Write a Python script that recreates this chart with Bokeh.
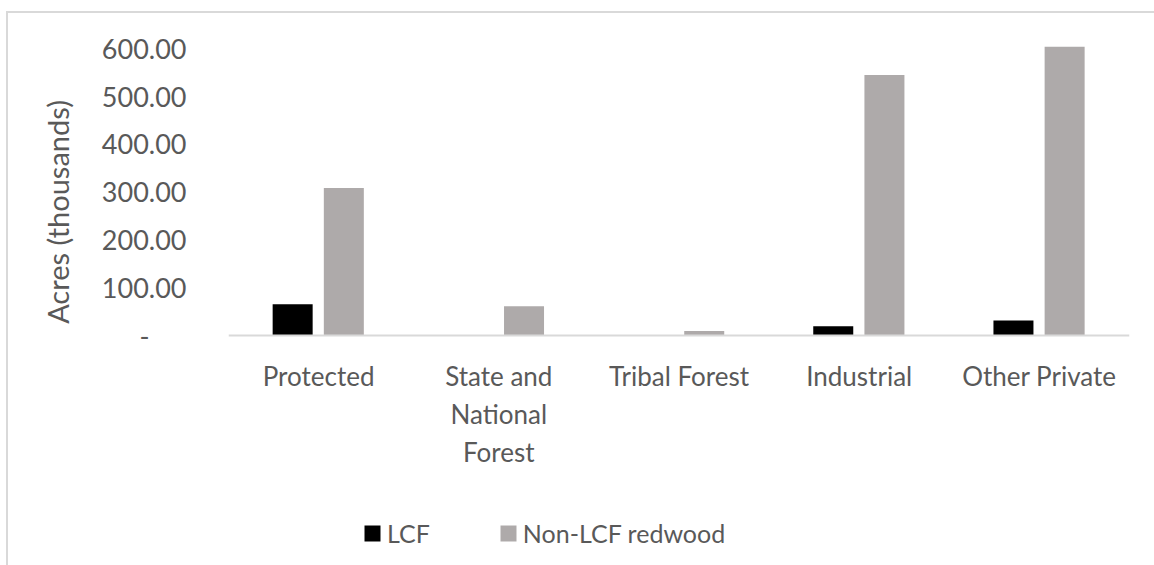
from bokeh.plotting import figure
from bokeh.models import (FactorRange, Range1d, FixedTicker, NumeralTickFormatter, Legend,
                          LegendItem, CategoricalAxis, ColumnDataSource)
from bokeh.transform import dodge
from bokeh.embed import file_html
from bokeh.resources import INLINE

categories = ["Protected", "State and National Forest", "Tribal Forest", "Industrial", "Other Private"]
label_line1 = ["Protected", "State and", "Tribal Forest", "Industrial", "Other Private"]
label_line2 = [" ", "National", "  ", "   ", "    "]
label_line3 = [" ", "Forest", "  ", "   ", "    "]
lcf = [65, 0, 0, 19, 31]
non_lcf = [308, 61, 9, 544, 603]
y_ticks = [0, 100, 200, 300, 400, 500, 600]
series_names = ["LCF", "Non-LCF redwood"]

FONT = "Lato"
TXT = "#595959"

source = ColumnDataSource(dict(cat=categories, lcf=lcf, non_lcf=non_lcf))

p = figure(
    x_range=FactorRange(*categories, range_padding=0),
    y_range=Range1d(-481, 610),
    frame_width=901, frame_height=522,
    output_backend="svg", toolbar_location=None,
    min_border_left=220, min_border_right=25, min_border_top=30, min_border_bottom=0,
    styles={"margin-left": "6px", "margin-top": "11px",
            "border-left": "2px solid #D9D9D9", "border-top": "2px solid #D9D9D9"},
)
p.outline_line_color = None
p.xgrid.grid_line_color = None
p.ygrid.grid_line_color = None
p.xaxis.visible = False

r1 = p.vbar(x=dodge("cat", -0.144, range=p.x_range), top="lcf", width=0.222, source=source,
            fill_color="#000000", line_color=None)
r2 = p.vbar(x=dodge("cat", 0.14, range=p.x_range), top="non_lcf", width=0.222, source=source,
            fill_color="#AEAAAA", line_color=None)

# y axis
p.yaxis.ticker = FixedTicker(ticks=y_ticks)
p.yaxis.formatter = NumeralTickFormatter(format="0.00")
p.yaxis.major_label_overrides = {0: "-\u2007\u2007\u2008"}
p.yaxis.axis_line_color = None
p.yaxis.major_tick_line_color = None
p.yaxis.minor_tick_line_color = None
p.yaxis.major_label_text_font = FONT
p.yaxis.major_label_text_font_size = "27px"
p.yaxis.major_label_text_color = TXT
p.yaxis.major_label_standoff = 36
p.yaxis.axis_label = "\u2007" * 11 + "Acres (thousands)"
p.yaxis.axis_label_text_font = FONT
p.yaxis.axis_label_text_font_size = "29px"
p.yaxis.axis_label_text_font_style = "normal"
p.yaxis.axis_label_text_color = TXT
p.yaxis.axis_label_standoff = 24

# category axis: three stacked label lines, all anchored at y = 0
for i, (labels, so) in enumerate([(label_line1, 19), (label_line2, 57), (label_line3, 95)]):
    name = f"line{i + 1}"
    p.extra_x_ranges[name] = FactorRange(*labels, range_padding=0)
    ax = CategoricalAxis(x_range_name=name, fixed_location=0)
    ax.major_tick_line_color = None
    ax.minor_tick_line_color = None
    ax.major_label_text_font = FONT
    ax.major_label_text_font_size = "26px"
    ax.major_label_text_color = TXT
    ax.major_label_standoff = so
    if i == 0:
        ax.axis_line_color = "#D9D9D9"
        ax.axis_line_width = 2
    else:
        ax.axis_line_color = None
    p.add_layout(ax, "below")

legend = Legend(
    items=[LegendItem(label=series_names[0], renderers=[r1]),
           LegendItem(label=series_names[1], renderers=[r2])],
    orientation="horizontal",
    location=(134, 17),
    label_text_font=FONT, label_text_font_size="25px", label_text_color=TXT,
    glyph_width=20, glyph_height=20, label_standoff=5, spacing=68,
    padding=0, margin=0, border_line_color=None, background_fill_alpha=0,
)
p.add_layout(legend, "center")

open("out.html", "w").write(file_html(p, INLINE))
